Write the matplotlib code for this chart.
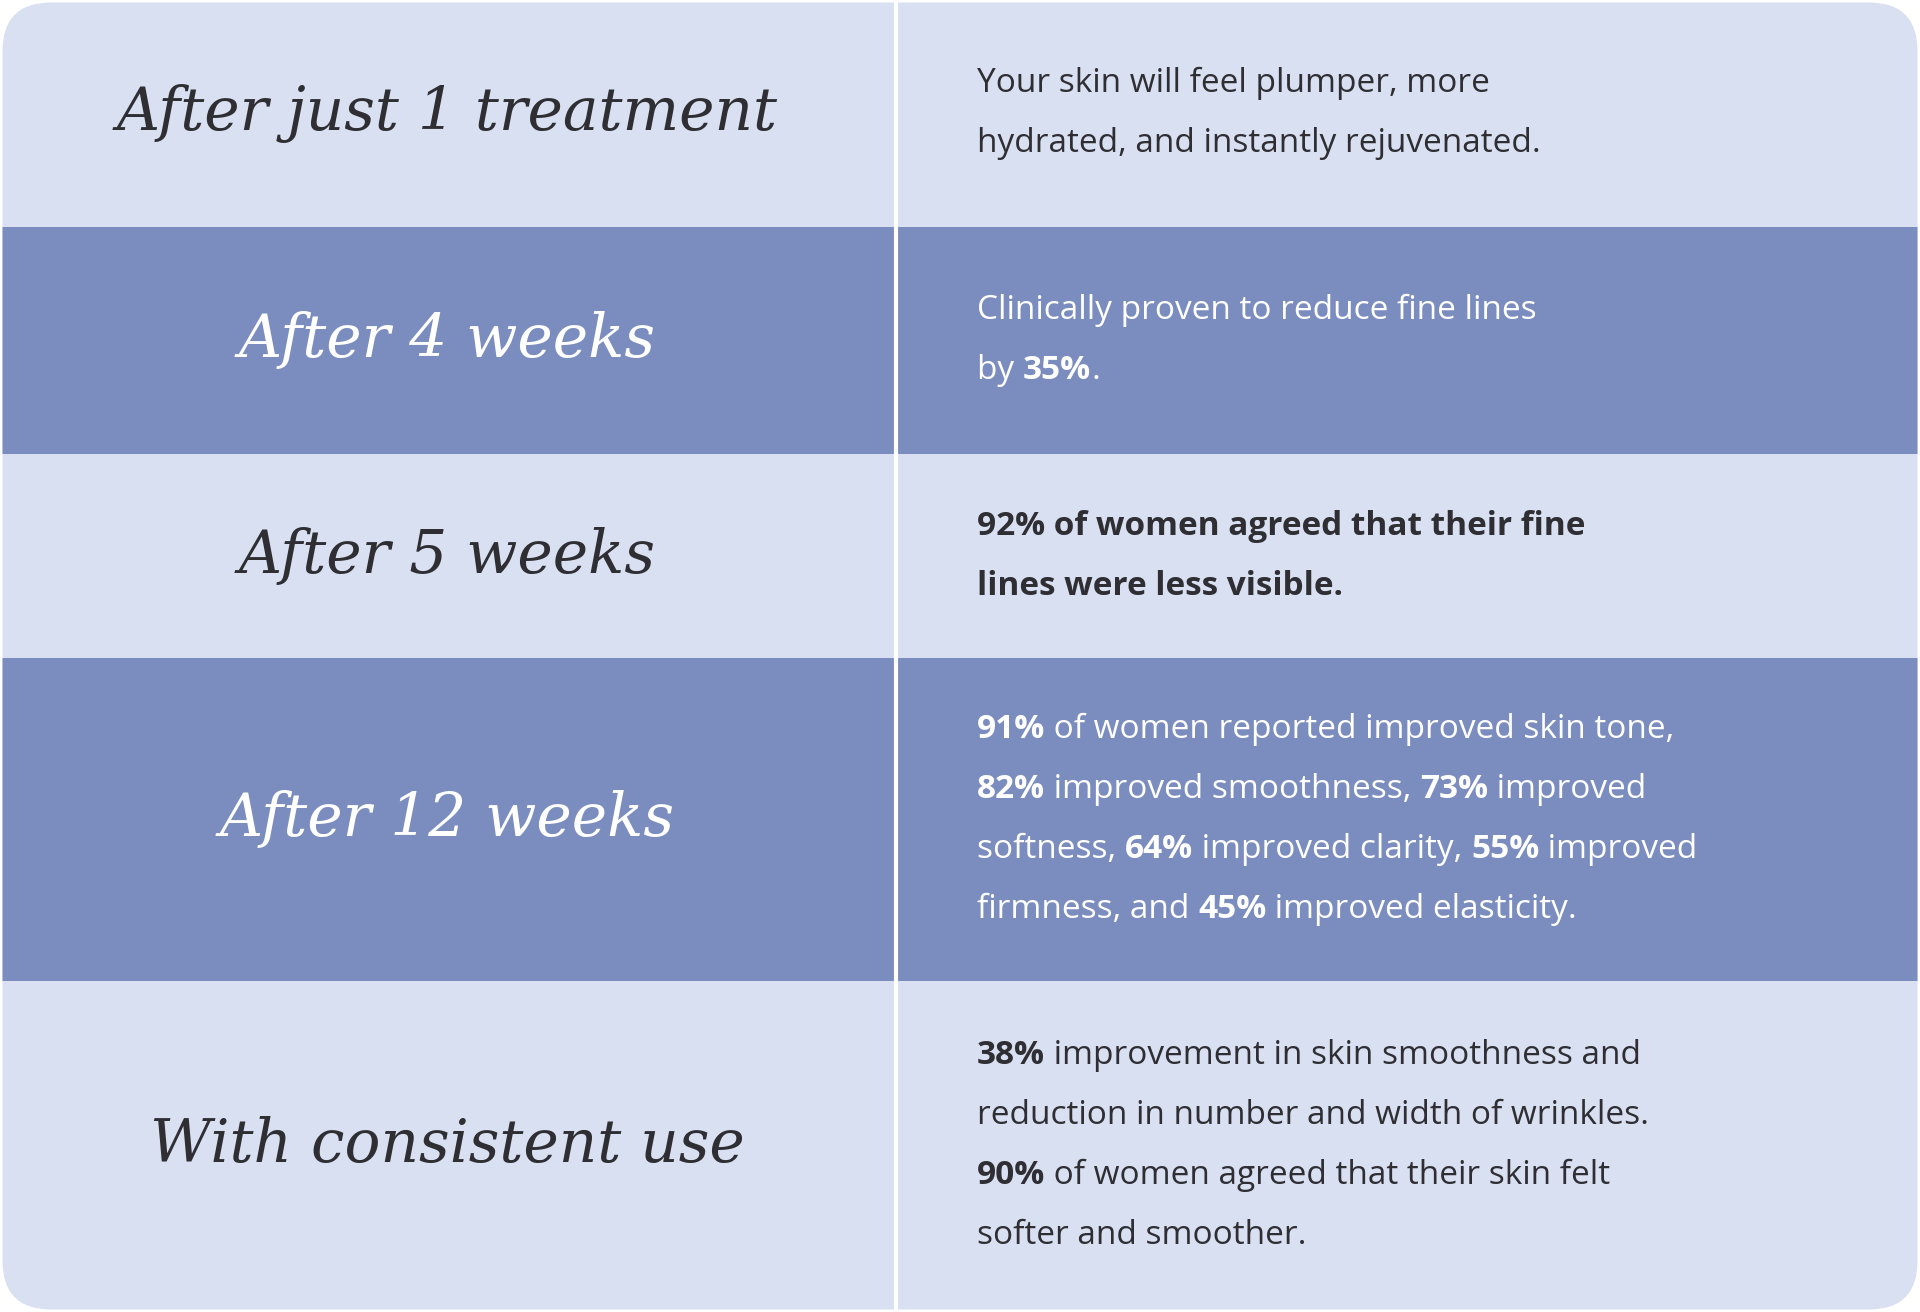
import matplotlib
matplotlib.use("Agg")
import matplotlib.pyplot as plt
from matplotlib.patches import Rectangle, FancyBboxPatch
import re

labels = ["After just 1 treatment", "After 4 weeks", "After 5 weeks", "After 12 weeks", "With consistent use"]
row_edges = [0, 185, 370, 537, 800, 1068]
dark_rows = [False, True, False, True, False]
descriptions = [
    ["Your skin will feel plumper, more", "hydrated, and instantly rejuvenated."],
    ["Clinically proven to reduce fine lines", "by **35%**."],
    ["**92% of women agreed that their fine**", "**lines were less visible.**"],
    ["**91%** of women reported improved skin tone,",
     "**82%** improved smoothness, **73%** improved",
     "softness, **64%** improved clarity, **55%** improved",
     "firmness, and **45%** improved elasticity."],
    ["**38%** improvement in skin smoothness and",
     "reduction in number and width of wrinkles.",
     "**90%** of women agreed that their skin felt",
     "softer and smoother."],
]

W, H = 1568, 1070
LIGHT, DARK = "#D9E0F1", "#7B8DBF"
TXT = "#2E2E33"

fig = plt.figure(figsize=(19.2, 13.12), dpi=100)
ax = fig.add_axes([0, 0, 1, 1])
ax.set_xlim(0, W); ax.set_ylim(1070, 0); ax.axis("off")
clip = FancyBboxPatch((2, 2), W - 4, 1066, boxstyle="round,pad=0,rounding_size=40",
                      transform=ax.transData, facecolor="none", edgecolor="none")
ax.add_patch(clip)

fig.canvas.draw()
r = fig.canvas.get_renderer()
px2data = W / 1920.0

def width(s, weight):
    t1 = ax.text(0, 0, "|" + s + "|", fontsize=24, family="Open Sans", weight=weight)
    t2 = ax.text(0, 0, "||", fontsize=24, family="Open Sans", weight=weight)
    w = t1.get_window_extent(r).width - t2.get_window_extent(r).width
    t1.remove(); t2.remove()
    return w * px2data

for i, lab in enumerate(labels):
    y0, y1 = row_edges[i], row_edges[i + 1]
    col = DARK if dark_rows[i] else LIGHT
    tc = "white" if dark_rows[i] else TXT
    rect = Rectangle((0, y0), W, y1 - y0, facecolor=col, edgecolor="none")
    ax.add_patch(rect); rect.set_clip_path(clip)
    yc = (y0 + y1) / 2
    ax.text(365, yc, lab, fontsize=43, family="DejaVu Serif", style="italic",
            color=tc, ha="center", va="center")
    lines = descriptions[i]
    n = len(lines)
    for j, line in enumerate(lines):
        ly = yc + (j - (n - 1) / 2) * 49
        x = 798
        parts = re.split(r"(\*\*.*?\*\*)", line)
        for p in parts:
            if not p:
                continue
            bold = p.startswith("**")
            s = p.strip("*") if bold else p
            wgt = "bold" if bold else "normal"
            ax.text(x, ly, s, fontsize=24, family="Open Sans", weight=wgt,
                    color=tc, ha="left", va="center")
            x += width(s, wgt)

ax.plot([732, 732], [0, 1070], color="white", lw=3)
fig.savefig("out.png", dpi=100, facecolor="white")
